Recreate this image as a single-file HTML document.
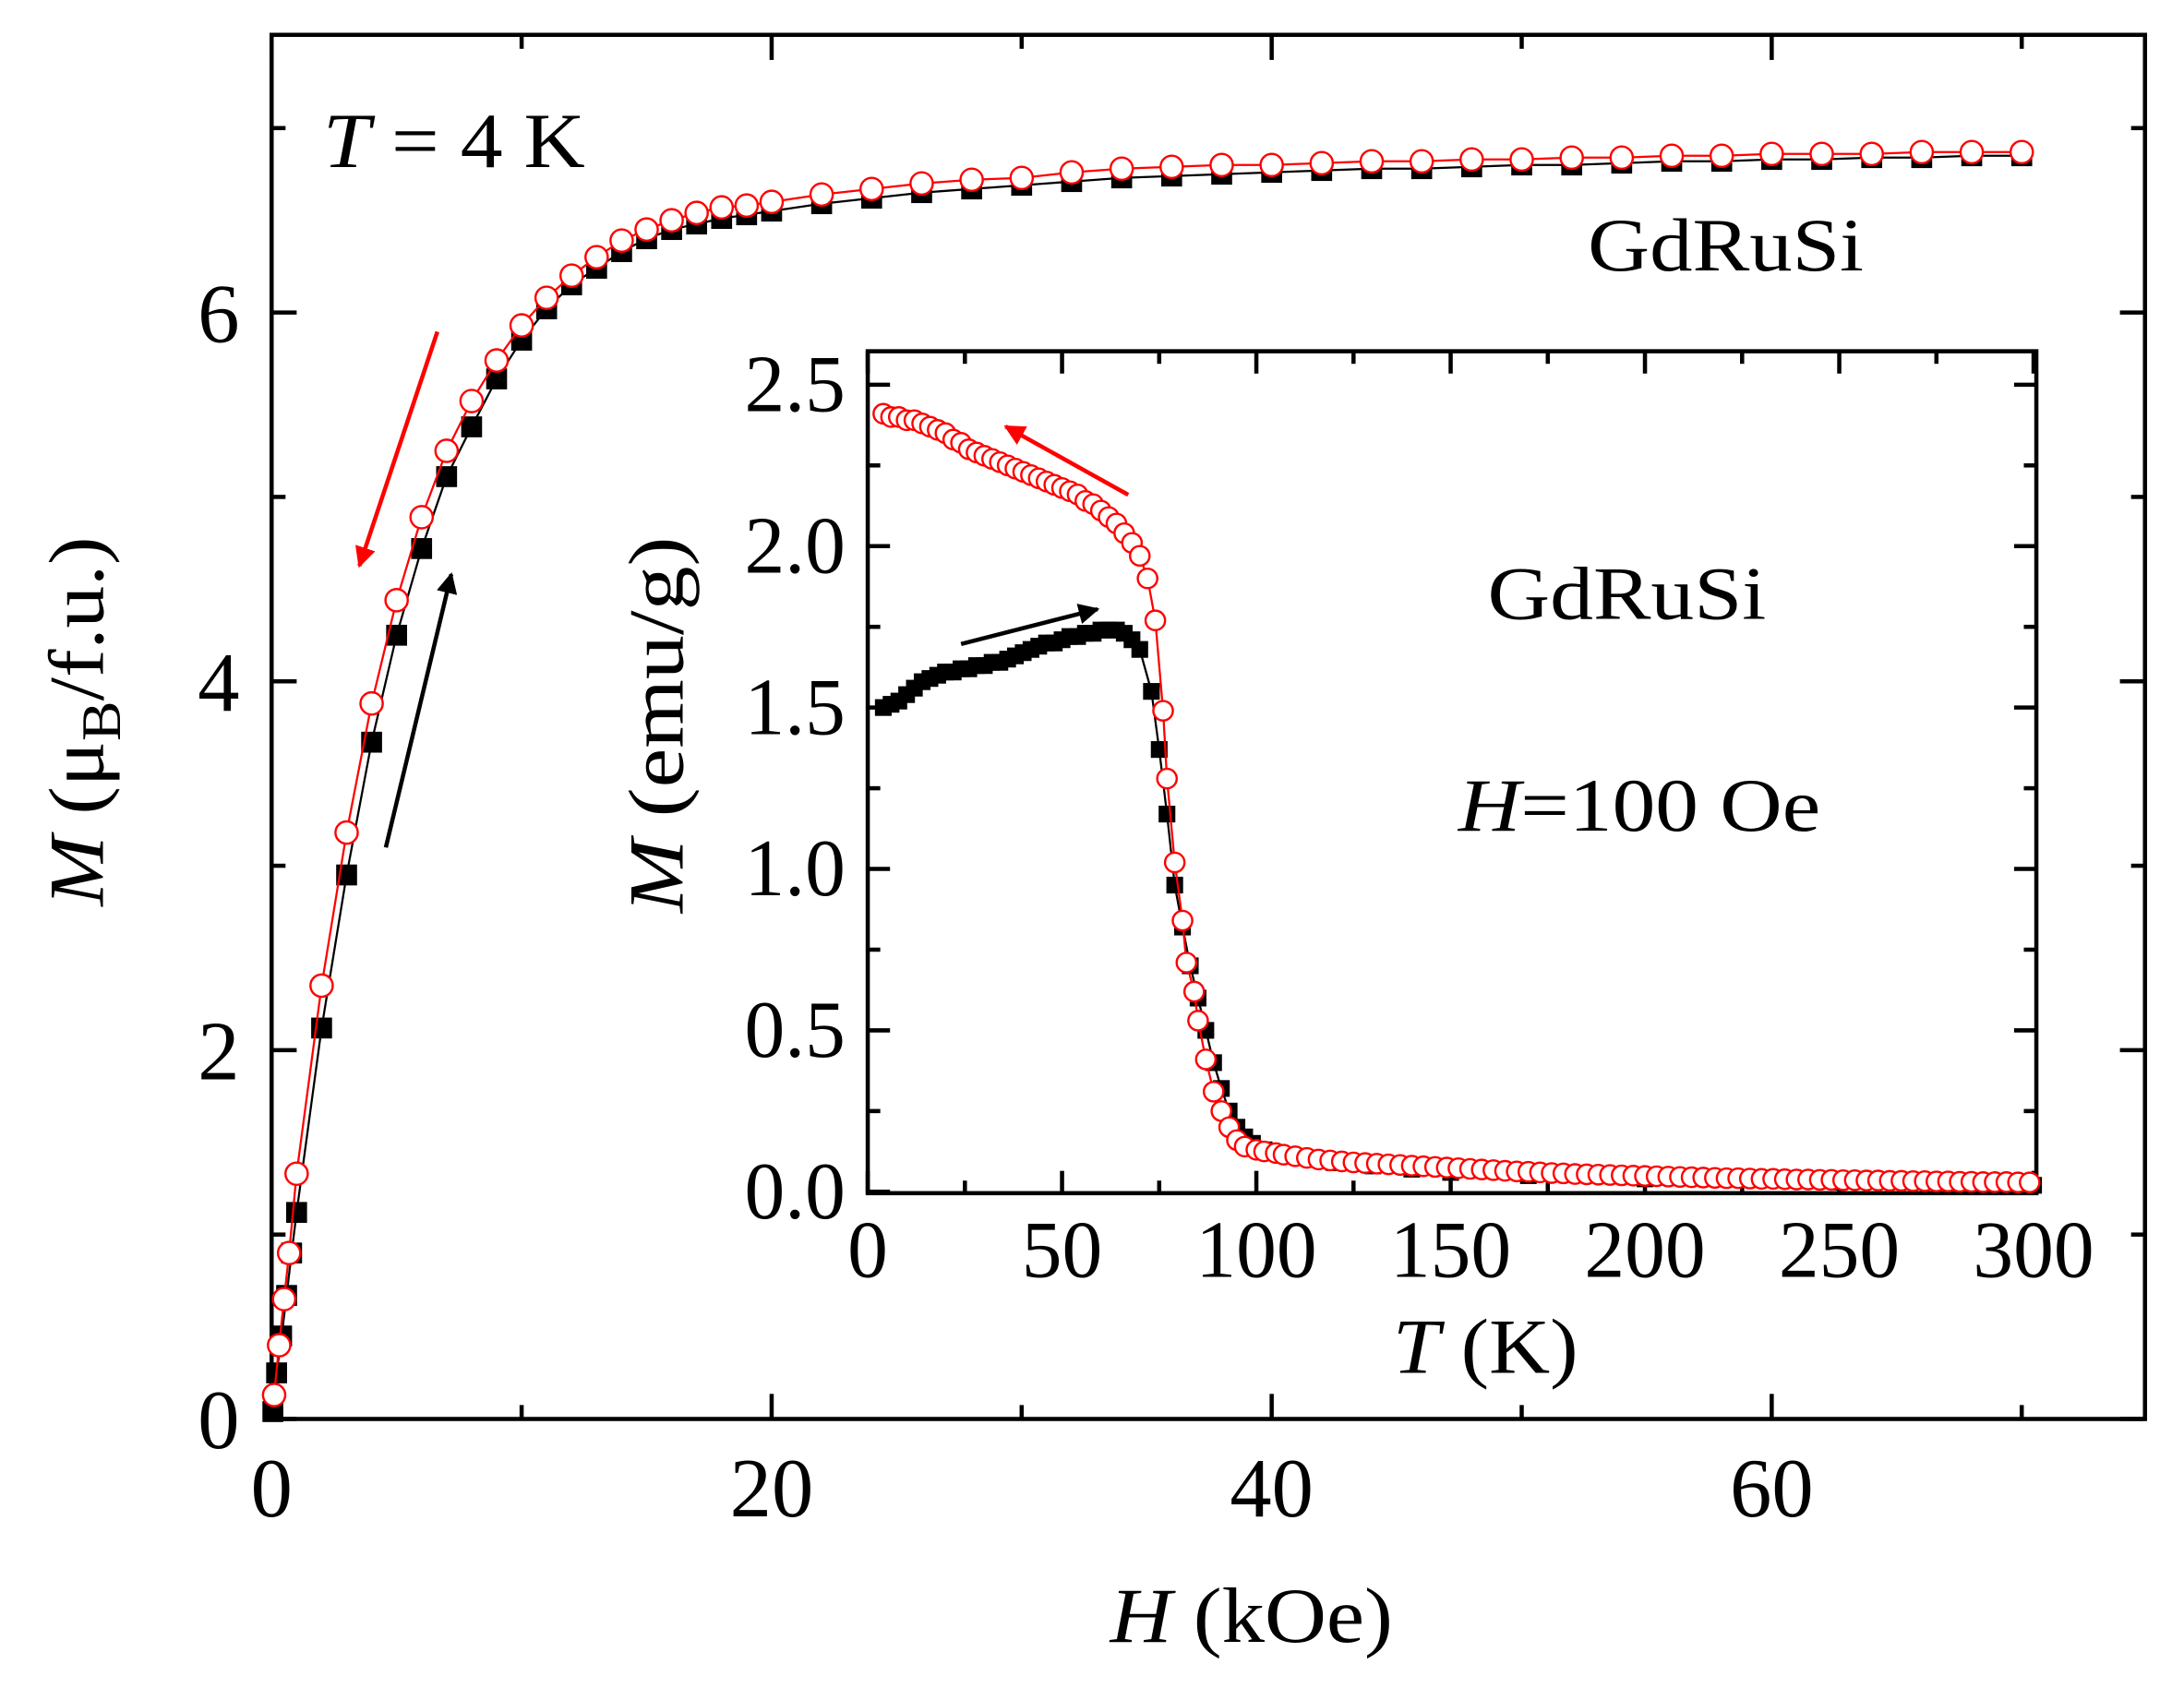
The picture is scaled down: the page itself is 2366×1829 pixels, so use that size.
<!DOCTYPE html>
<html><head><meta charset="utf-8"><style>
html,body{margin:0;padding:0;background:#fff;}
svg{display:block;}
text{font-family:"Liberation Serif",serif;fill:#000;}
</style></head>
<body>
<svg id="chart" width="2366" height="1829" viewBox="0 0 1568 1211" preserveAspectRatio="none" xmlns="http://www.w3.org/2000/svg">
<defs>
<marker id="ahR" viewBox="0 0 10 10" refX="9" refY="5" markerWidth="5" markerHeight="5" orient="auto"><path d="M0,0 L10,5 L0,10 z" fill="#f00"/></marker>
<marker id="ahK" viewBox="0 0 10 10" refX="9" refY="5" markerWidth="5" markerHeight="5" orient="auto"><path d="M0,0 L10,5 L0,10 z" fill="#000"/></marker>
</defs>
<g id="main"></g>
<g id="inset"></g>
<text x="232" y="120" font-size="56" textLength="188" lengthAdjust="spacingAndGlyphs"><tspan font-style="italic">T</tspan> = 4 K</text>
<text x="1140" y="194" font-size="54" textLength="198" lengthAdjust="spacingAndGlyphs">GdRuSi</text>
<text x="1068" y="444" font-size="54" textLength="200" lengthAdjust="spacingAndGlyphs">GdRuSi</text>
<text x="1047" y="596" font-size="54" textLength="260" lengthAdjust="spacingAndGlyphs"><tspan font-style="italic">H</tspan>=100 Oe</text>
<text x="797" y="1178" font-size="56" textLength="203" lengthAdjust="spacingAndGlyphs"><tspan font-style="italic">H</tspan> (kOe)</text>
<text transform="translate(74,650) rotate(-90)" font-size="56" textLength="265" lengthAdjust="spacingAndGlyphs"><tspan font-style="italic">M</tspan> (μ<tspan font-size="40" dy="12">B</tspan><tspan dy="-12">/f.u.)</tspan></text>
<text x="1000" y="985" font-size="56" textLength="133" lengthAdjust="spacingAndGlyphs"><tspan font-style="italic">T</tspan> (K)</text>
<text transform="translate(490,655) rotate(-90)" font-size="56" textLength="270" lengthAdjust="spacingAndGlyphs"><tspan font-style="italic">M</tspan> (emu/g)</text>
<line x1="314" y1="238" x2="258" y2="406" stroke="#f00" stroke-width="3" marker-end="url(#ahR)"/>
<line x1="277" y1="608" x2="324" y2="412" stroke="#000" stroke-width="3" marker-end="url(#ahK)"/>
<line x1="810" y1="355" x2="722" y2="306" stroke="#f00" stroke-width="3" marker-end="url(#ahR)"/>
<line x1="690" y1="462" x2="788" y2="437" stroke="#000" stroke-width="3" marker-end="url(#ahK)"/>
</svg>
<script>
// Main M(H) data
const mainHUp = [0.05,0.2,0.4,0.6,0.8,1,2,3,4,5,6,7,8,9,10,11,12,13,14,15,16,17,18,19,20,22,24,26,28,30,32,34,36,38,40,42,44,46,48,50,52,54,56,58,60,62,64,66,68,70];
const mainMUp = [0.04,0.25,0.45,0.67,0.9,1.12,2.12,2.95,3.67,4.25,4.72,5.11,5.38,5.64,5.85,6.02,6.15,6.24,6.33,6.40,6.45,6.48,6.51,6.53,6.55,6.59,6.62,6.65,6.67,6.69,6.71,6.73,6.74,6.75,6.76,6.77,6.78,6.78,6.79,6.80,6.80,6.81,6.82,6.82,6.83,6.83,6.84,6.84,6.85,6.85];
const mainHDown = [0.1,0.3,0.5,0.7,1,2,3,4,5,6,7,8,9,10,11,12,13,14,15,16,17,18,19,20,22,24,26,28,30,32,34,36,38,40,42,44,46,48,50,52,54,56,58,60,62,64,66,68,70];
const mainMDown = [0.13,0.4,0.65,0.9,1.33,2.35,3.18,3.88,4.44,4.89,5.25,5.52,5.74,5.93,6.08,6.2,6.3,6.39,6.45,6.5,6.54,6.57,6.58,6.6,6.64,6.67,6.70,6.72,6.73,6.76,6.78,6.79,6.80,6.80,6.81,6.82,6.82,6.83,6.83,6.84,6.84,6.85,6.85,6.86,6.86,6.86,6.87,6.87,6.87];
const mainXTicks = [0,20,40,60];
const mainYTicks = [0,2,4,6];
// Inset M(T) data
const zfcT = [4,6,8,10,12,14,16,18,20,22,24,26,28,30,32,34,36,38,40,42,44,46,48,50,52,54,56,58,60,62,64,66,68,70,73,75,77,79,81,83,85,87,89,91,93,95,97,99,102,106,110,115,120,130,140,150,170,200,250,300];
const zfcM = [1.50,1.51,1.52,1.54,1.56,1.58,1.59,1.60,1.61,1.61,1.62,1.62,1.63,1.63,1.64,1.64,1.65,1.66,1.67,1.68,1.69,1.70,1.70,1.71,1.72,1.72,1.73,1.73,1.74,1.74,1.74,1.73,1.71,1.68,1.55,1.37,1.17,0.95,0.82,0.70,0.60,0.50,0.40,0.32,0.25,0.20,0.17,0.15,0.13,0.12,0.11,0.10,0.09,0.08,0.07,0.06,0.05,0.04,0.03,0.02];
const fcT = [4,6,8,10,12,14,16,18,20,22,24,26,28,30,32,34,36,38,40,42,44,46,48,50,52,54,56,58,60,62,64,66,68,70,72,74,76,77,79,81,82,84,85,87,89,91,93,95,97,100,102,105,107,110,113,116,119,122,125,128,131,134,137,140,143,146,149,152,155,158,161,164,167,170,173,176,179,182,185,188,191,194,197,200,203,206,209,212,215,218,221,224,227,230,233,236,239,242,245,248,251,254,257,260,263,266,269,272,275,278,281,284,287,290,293,296,299];
const fcM = [2.41,2.40,2.40,2.39,2.39,2.38,2.37,2.36,2.35,2.33,2.32,2.30,2.29,2.28,2.27,2.26,2.25,2.24,2.23,2.22,2.21,2.20,2.19,2.18,2.17,2.16,2.14,2.13,2.11,2.09,2.07,2.04,2.01,1.97,1.90,1.77,1.49,1.28,1.02,0.84,0.71,0.62,0.53,0.41,0.31,0.25,0.20,0.16,0.14,0.13,0.125,0.12,0.115,0.11,0.105,0.10,0.097,0.094,0.091,0.089,0.087,0.085,0.083,0.081,0.079,0.077,0.075,0.073,0.071,0.069,0.067,0.065,0.063,0.062,0.060,0.058,0.057,0.055,0.054,0.053,0.052,0.051,0.050,0.049,0.048,0.047,0.046,0.045,0.044,0.043,0.042,0.042,0.041,0.040,0.040,0.039,0.038,0.038,0.037,0.037,0.036,0.036,0.035,0.035,0.034,0.034,0.033,0.033,0.032,0.032,0.031,0.031,0.030,0.030,0.030,0.029,0.029];
const insetXTicks = [0,50,100,150,200,250,300];
const insetYTicks = [0.0,0.5,1.0,1.5,2.0,2.5];

const NS = "http://www.w3.org/2000/svg";
function mk(tag, attrs, parent){const e=document.createElementNS(NS,tag);for(const k in attrs)e.setAttribute(k,attrs[k]);parent.appendChild(e);return e;}

// main axes
const mL=195,mR=1540,mT=25,mB=1018;
const mx = h => mL + h*17.95;
const my = m => mB - m*132.3;
const gm = document.getElementById('main');
const frame = mk('rect',{x:mL,y:mT,width:mR-mL,height:mB-mT,fill:'none',stroke:'#000','stroke-width':3},gm);


for(let v=0; v<=70; v+=10){
  const major = v%20===0, len = major?18:10;
  mk('line',{x1:mx(v),x2:mx(v),y1:mB,y2:mB-len,stroke:'#000','stroke-width':3},gm);
  mk('line',{x1:mx(v),x2:mx(v),y1:mT,y2:mT+len,stroke:'#000','stroke-width':3},gm);
}
for(let v=0; v<=7; v+=1){
  const major = v%2===0, len = major?18:10;
  mk('line',{x1:mL,x2:mL+len,y1:my(v),y2:my(v),stroke:'#000','stroke-width':3},gm);
  mk('line',{x1:mR,x2:mR-len,y1:my(v),y2:my(v),stroke:'#000','stroke-width':3},gm);
}
mainXTicks.forEach(v=>{const t=mk('text',{x:mx(v),y:1088,'font-size':60,'text-anchor':'middle'},gm);t.textContent=v;

});
mainYTicks.forEach(v=>{const t=mk('text',{x:172,y:my(v)+21,'font-size':60,'text-anchor':'end'},gm);t.textContent=v;

});

function series(g, xs, ys, fx, fy, color, kind, size, name){
  const pts = xs.map((x,i)=>fx(x)+','+fy(ys[i])).join(' ');
  const pl = mk('polyline',{points:pts,fill:'none',stroke:color,'stroke-width':1.5},g);
  
  
  xs.forEach((x,i)=>{
    let e;
    if(kind==='sq') e = mk('rect',{x:fx(x)-size/2,y:fy(ys[i])-size/2,width:size,height:size,fill:'#000'},g);
    else e = mk('circle',{cx:fx(x),cy:fy(ys[i]),r:size/2,fill:'#fff',stroke:'#f00','stroke-width':1.6},g);
    
    
  });
}
series(gm, mainHUp, mainMUp, mx, my, '#000', 'sq', 15, 'field-increase');
series(gm, mainHDown, mainMDown, mx, my, '#f00', 'ci', 16, 'field-decrease');

// inset
const iL=623,iR=1462,iT=252,iB=856;
const ix = t => iL + t*2.79;
const iy = m => 855 - m*231.6;
const gi = document.getElementById('inset');
const ibg = mk('rect',{x:iL,y:iT,width:iR-iL,height:iB-iT,fill:'#fff',stroke:'#000','stroke-width':3},gi);


for(let v=0; v<=300; v+=25){
  const major = v%50===0, len = major?16:9;
  mk('line',{x1:ix(v),x2:ix(v),y1:iB,y2:iB-len,stroke:'#000','stroke-width':3},gi);
  mk('line',{x1:ix(v),x2:ix(v),y1:iT,y2:iT+len,stroke:'#000','stroke-width':3},gi);
}
for(let v=0; v<=2.5001; v+=0.25){
  const major = Math.abs(v*2-Math.round(v*2))<1e-6, len = major?16:9;
  mk('line',{x1:iL,x2:iL+len,y1:iy(v),y2:iy(v),stroke:'#000','stroke-width':3},gi);
  mk('line',{x1:iR,x2:iR-len,y1:iy(v),y2:iy(v),stroke:'#000','stroke-width':3},gi);
}
insetXTicks.forEach(v=>{const t=mk('text',{x:ix(v),y:916,'font-size':58,'text-anchor':'middle'},gi);t.textContent=v;

});
insetYTicks.forEach(v=>{const t=mk('text',{x:607,y:iy(v)+19,'font-size':58,'text-anchor':'end'},gi);t.textContent=v.toFixed(1);

});
series(gi, zfcT, zfcM, ix, iy, '#000', 'sq', 12, 'zfc');
series(gi, fcT, fcM, ix, iy, '#f00', 'ci', 14, 'fc');
</script>
</body></html>
